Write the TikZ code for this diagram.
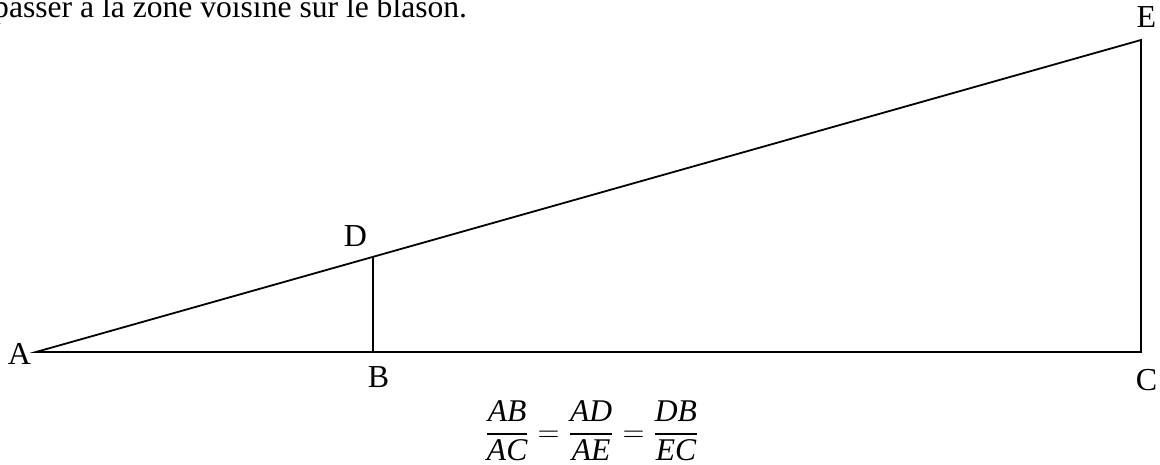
\documentclass[tikz,border=0pt]{standalone}
\usepackage{amsmath}
\usepackage{fontspec}
\setmainfont{Liberation Serif}

\begin{document}
\begin{tikzpicture}[x=0.5pt,y=0.5pt,line width=0.9pt,
	every node/.style={font=\fontsize{16}{19}\selectfont,inner sep=0pt}]
	\useasboundingbox (0,0) rectangle (1160,465);
	\coordinate (A) at (36,113);
	\coordinate (B) at (373,113);
	\coordinate (C) at (1141,113);
	\coordinate (D) at (373,209);
	\coordinate (E) at (1141,425);
	\draw (A) -- (C) -- (E) -- cycle;
	\draw (B) -- (D);
	\node (labelA) at (19.5,111.5) {A};
	\node (labelB) at (378.5,87.5) {B};
	\node (labelC) at (1146.5,85) {C};
	\node (labelD) at (355.5,229) {D};
	\node (labelE) at (1146.5,447.5) {E};
	\node[anchor=base east,font=\fontsize{15.8}{19}\selectfont] (intro) at (468,447) {passer à la zone voisine sur le blason.};
	\node[font=\fontsize{15.8}{18}\selectfont] (ratio) at (592,34)
		{$\dfrac{\textit{AB}}{\textit{AC}}=\dfrac{\textit{AD}}{\textit{AE}}=\dfrac{\textit{DB}}{\textit{EC}}$};
\end{tikzpicture}
\end{document}
